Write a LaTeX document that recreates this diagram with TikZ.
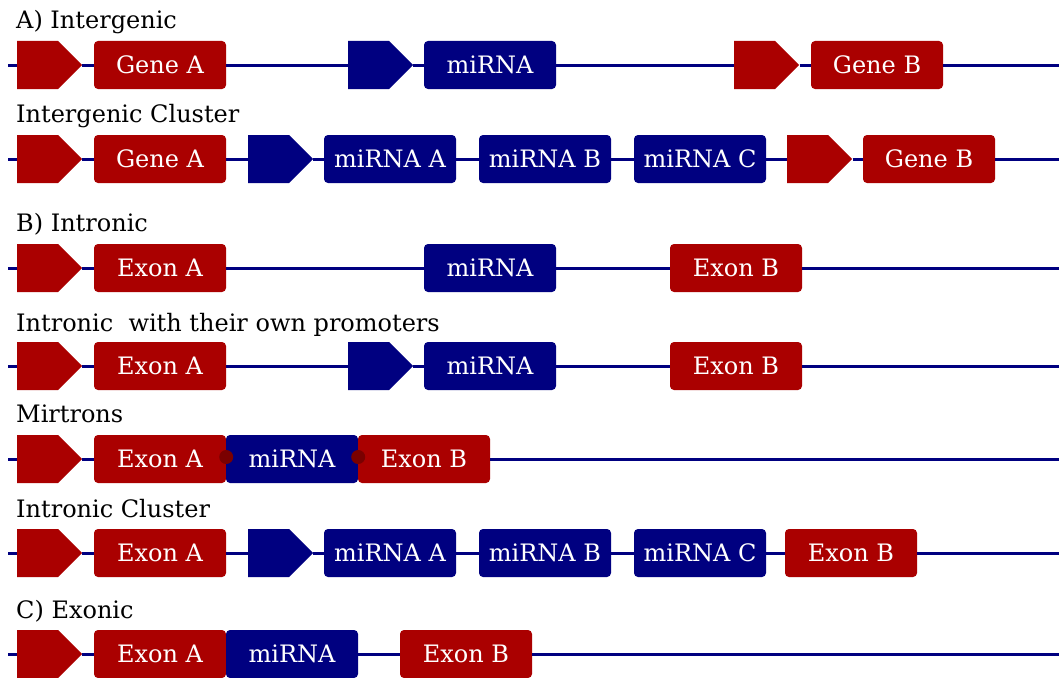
\documentclass[tikz,border=0pt]{standalone}
\usepackage{fontspec}
\setmainfont{DejaVu Serif}
\usetikzlibrary{shapes.symbols}
\definecolor{genered}{HTML}{AA0000}
\definecolor{mirblue}{HTML}{000080}
\definecolor{joint}{HTML}{7A0000}
\tikzset{
  box/.style={rectangle, rounded corners=4pt, minimum width=132pt, minimum height=48pt,
    inner sep=0pt, text=white, font=\fontsize{24}{28}\selectfont},
  genebox/.style={box, fill=genered},
  mirbox/.style={box, fill=mirblue},
  prom/.style={signal, signal to=east, signal from=nowhere, signal pointer angle=90,
    minimum width=65pt, minimum height=48pt, inner sep=0pt, anchor=west},
  redprom/.style={prom, fill=genered},
  blueprom/.style={prom, fill=mirblue},
  dna/.style={draw=mirblue, line width=3pt},
  title/.style={anchor=base west, inner sep=0pt, font=\fontsize{24}{28}\selectfont},
  splice/.style={circle, fill=joint, minimum size=14pt, inner sep=0pt},
}
\begin{document}
\begin{tikzpicture}[x=1pt,y=-1pt]
\useasboundingbox (0,0) rectangle (1059,677);

% A) intergenic
\node[title] (t1) at (16,29) {A) Intergenic};
\coordinate (l1) at (8,65); \coordinate (r1) at (1059,65);
\node[redprom] (p1a) at (17,65) {};
\node[genebox] (g1a) at (160,65) {Gene A};
\node[blueprom] (p1b) at (348,65) {};
\node[mirbox] (m1) at (490,65) {miRNA};
\node[redprom] (p1c) at (734,65) {};
\node[genebox] (g1b) at (877,65) {Gene B};
\draw[dna] (l1) -- (p1a) (p1a) -- (g1a) (g1a) -- (p1b) (p1b) -- (m1) (m1) -- (p1c) (p1c) -- (g1b) (g1b) -- (r1);

% intergenic cluster
\node[title] (t2) at (16,122) {Intergenic Cluster};
\coordinate (l2) at (8,159); \coordinate (r2) at (1059,159);
\node[redprom] (p2a) at (17,159) {};
\node[genebox] (g2a) at (160,159) {Gene A};
\node[blueprom] (p2b) at (248,159) {};
\node[mirbox] (m2a) at (390,159) {miRNA A};
\node[mirbox] (m2b) at (545,159) {miRNA B};
\node[mirbox] (m2c) at (700,159) {miRNA C};
\node[redprom] (p2c) at (787,159) {};
\node[genebox] (g2b) at (929,159) {Gene B};
\draw[dna] (l2) -- (p2a) (p2a) -- (g2a) (g2a) -- (p2b) (p2b) -- (m2a) (m2a) -- (m2b)
  (m2b) -- (m2c) (m2c) -- (p2c) (p2c) -- (g2b) (g2b) -- (r2);

% B) intronic
\node[title] (t3) at (16,231) {B) Intronic};
\coordinate (l3) at (8,268); \coordinate (r3) at (1059,268);
\node[redprom] (p3a) at (17,268) {};
\node[genebox] (e3a) at (160,268) {Exon A};
\node[mirbox] (m3) at (490,268) {miRNA};
\node[genebox] (e3b) at (736,268) {Exon B};
\draw[dna] (l3) -- (p3a) (p3a) -- (e3a) (e3a) -- (m3) (m3) -- (e3b) (e3b) -- (r3);

% intronic with own promoters
\node[title] (t4) at (16,331) {Intronic\ \ with their own promoters};
\coordinate (l4) at (8,366); \coordinate (r4) at (1059,366);
\node[redprom] (p4a) at (17,366) {};
\node[genebox] (e4a) at (160,366) {Exon A};
\node[blueprom] (p4b) at (348,366) {};
\node[mirbox] (m4) at (490,366) {miRNA};
\node[genebox] (e4b) at (736,366) {Exon B};
\draw[dna] (l4) -- (p4a) (p4a) -- (e4a) (e4a) -- (p4b) (p4b) -- (m4) (m4) -- (e4b) (e4b) -- (r4);

% mirtrons
\node[title] (t5) at (16,422) {Mirtrons};
\coordinate (l5) at (8,459); \coordinate (r5) at (1059,459);
\node[redprom] (p5a) at (17,459) {};
\node[genebox] (e5a) at (160,459) {Exon A};
\node[mirbox] (m5) at (292,459) {miRNA};
\node[genebox] (e5b) at (424,459) {Exon B};
\draw[dna] (l5) -- (p5a) (p5a) -- (e5a) (e5b) -- (r5);
\node[splice] (s5a) at ([yshift=2pt]e5a.east) {};
\node[splice] (s5b) at ([yshift=2pt]m5.east) {};

% intronic cluster
\node[title] (t6) at (16,517) {Intronic Cluster};
\coordinate (l6) at (8,553); \coordinate (r6) at (1059,553);
\node[redprom] (p6a) at (17,553) {};
\node[genebox] (e6a) at (160,553) {Exon A};
\node[blueprom] (p6b) at (248,553) {};
\node[mirbox] (m6a) at (390,553) {miRNA A};
\node[mirbox] (m6b) at (545,553) {miRNA B};
\node[mirbox] (m6c) at (700,553) {miRNA C};
\node[genebox] (e6b) at (851,553) {Exon B};
\draw[dna] (l6) -- (p6a) (p6a) -- (e6a) (e6a) -- (p6b) (p6b) -- (m6a) (m6a) -- (m6b)
  (m6b) -- (m6c) (m6c) -- (e6b) (e6b) -- (r6);

% C) exonic
\node[title] (t7) at (16,618) {C) Exonic};
\coordinate (l7) at (8,654); \coordinate (r7) at (1059,654);
\node[redprom] (p7a) at (17,654) {};
\node[genebox] (e7a) at (160,654) {Exon A};
\node[mirbox] (m7) at (292,654) {miRNA};
\node[genebox] (e7b) at (466,654) {Exon B};
\draw[dna] (l7) -- (p7a) (p7a) -- (e7a) (m7) -- (e7b) (e7b) -- (r7);
\end{tikzpicture}
\end{document}
